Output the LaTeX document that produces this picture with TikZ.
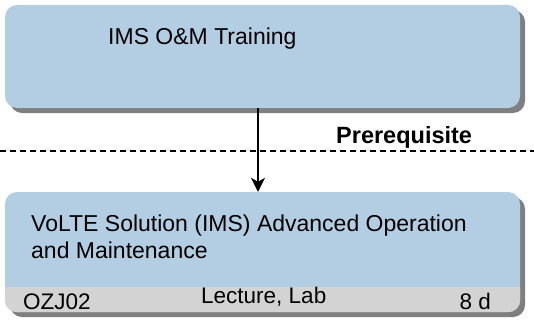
\documentclass[tikz,border=0pt]{standalone}
\usepackage{fontspec}
\setmainfont{Liberation Sans}
\usetikzlibrary{arrows.meta}
\definecolor{boxblue}{HTML}{B3CEE3}
\definecolor{bandgray}{HTML}{D3D3D3}
\definecolor{shadowgray}{HTML}{7F7F7F}
\tikzset{
  course/.style={rounded corners=12pt, fill=boxblue, inner sep=0pt},
  label/.style={inner sep=0pt, anchor=base west, font=\fontsize{23}{27}\selectfont},
  foot/.style={inner sep=0pt, font=\fontsize{22.5}{26}\selectfont},
  link/.style={line width=1.8pt, -{Stealth[length=14pt,width=14pt,inset=4pt]}},
  divider/.style={line width=1.2pt, dash pattern=on 6pt off 4pt}
}
\begin{document}
\begin{tikzpicture}[x=1pt,y=-1pt]
\useasboundingbox (0,0) rectangle (534,321);
% shadows
\fill[shadowgray, rounded corners=12pt] (10,10) rectangle (525,113);
\fill[shadowgray, rounded corners=12pt] (10,197) rectangle (525,317);
% top box
\node[course, minimum width=515pt, minimum height=103pt] (top) at (262.5,56.5) {};
\node[label] (toptext) at (108,45) {IMS O\&M Training};
% bottom box
\node[course, minimum width=515pt, minimum height=120pt] (bot) at (262.5,252) {};
\begin{scope}
  \clip (0,287) rectangle (534,321);
  \fill[bandgray, rounded corners=12pt] (bot.north west) rectangle (bot.south east);
\end{scope}
\node[label, font=\fontsize{23}{27}\selectfont, align=left] (bottext) at (31,258)
  {VoLTE Solution (IMS) Advanced Operation\\and Maintenance};
\node[foot, anchor=base west] (code) at (23,309.5) {OZJ02};
\node[foot, anchor=base west] (kind) at (201,303) {Lecture, Lab};
\node[foot, anchor=base east] (days) at (491,309.5) {8 d};
% divider
\coordinate (dl) at (0,151);
\coordinate (dr) at (534,151);
\draw[divider] (dl) -- (dr);
\node[label, font=\bfseries\fontsize{23.5}{27}\selectfont] (pre) at (336,143) {Prerequisite};
% arrow
\coordinate (ax) at (258,0);
\draw[link] (top.south -| ax) -- (bot.north -| ax);
\end{tikzpicture}
\end{document}
